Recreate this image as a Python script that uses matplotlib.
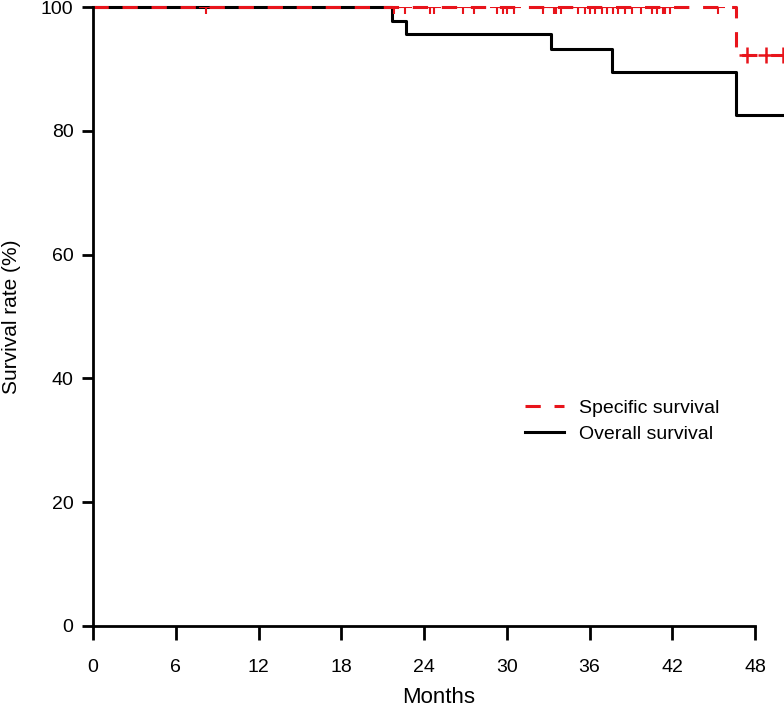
import matplotlib
matplotlib.use("Agg")
import matplotlib.pyplot as plt

# step times (months) and survival (%)
overall_t = [0, 21.7, 22.7, 33.2, 37.6, 46.6, 50.1]
overall_s = [100, 97.8, 95.7, 93.2, 89.5, 82.5, 82.5]

specific_t = [0, 46.6, 50.1]
specific_s = [100, 92.2, 92.2]

# censored observations, specific survival
cens_100 = [8.2, 21.8, 22.6, 24.4, 24.7, 26.8, 27.6, 29.3, 29.7, 30.0, 30.5,
            32.6, 33.4, 33.6, 33.9, 35.2, 35.7, 36.0, 36.4, 36.9, 37.3, 37.7,
            38.1, 38.6, 39.1, 39.7, 40.5, 40.9, 41.3, 41.5, 41.8, 45.3]
cens_92 = [47.4, 48.8, 50.0]

xticks = [0, 6, 12, 18, 24, 30, 36, 42, 48]
yticks = [0, 20, 40, 60, 80, 100]

plt.rcParams['font.family'] = ['Liberation Sans', 'DejaVu Sans']

fig = plt.figure(figsize=(7.84, 7.10), dpi=100)
ax = fig.add_axes([93 / 784, 84 / 710, 691 / 784, 619 / 710])

ax.step(overall_t, overall_s, where='post', color='black', lw=2.2,
        clip_on=False, label='Overall survival', zorder=3)
ax.step(specific_t, specific_s, where='post', color='#e8141b', lw=2.2,
        dashes=(5, 4.5), clip_on=False, label='Specific survival', zorder=4)

ax.plot(cens_100, [100] * len(cens_100), ls='none', marker='+', ms=10,
        mew=1.5, color='#e8141b', zorder=5)
ax.plot(cens_92, [92.2] * len(cens_92), ls='none', marker='+', ms=11,
        mew=1.8, color='#e8141b', zorder=5)

ax.set_xlim(0, 50.1)
ax.set_ylim(0, 100)

for s in ['top', 'right']:
    ax.spines[s].set_visible(False)
ax.spines['left'].set_bounds(0, 100)
ax.spines['bottom'].set_bounds(0, 48)
ax.spines['left'].set_linewidth(2)
ax.spines['bottom'].set_linewidth(2)
ax.spines['left'].set_zorder(6)

ax.set_xticks(xticks)
ax.set_yticks(yticks)
ax.tick_params(axis='x', length=10, width=2, pad=14, labelsize=14)
ax.tick_params(axis='y', length=8, width=2, pad=6, labelsize=14)

ax.set_xlabel('Months', fontsize=16, labelpad=8)
ax.set_ylabel('Survival rate (%)', fontsize=15, labelpad=14)

h, l = ax.get_legend_handles_labels()
ax.legend(h[::-1], l[::-1], loc='upper left', bbox_to_anchor=(0.6, 0.395),
          frameon=False, fontsize=14, handlelength=2.0, handletextpad=0.75,
          labelspacing=0.45)

fig.savefig('out.png', dpi=100)
